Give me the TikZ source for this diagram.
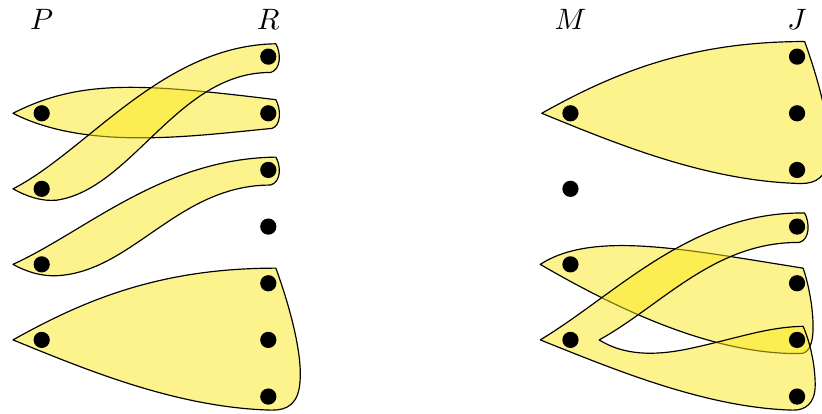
\documentclass[tikz,border=0pt]{standalone}
\usepackage{amsmath, amssymb}
\usepackage{tikz}
\usetikzlibrary{positioning}
\usepackage{xcolor}

\definecolor{blobyellow}{RGB}{251,231,25}

\tikzset{
  vertex/.style={circle, fill=black, inner sep=0pt, minimum size=5.5pt},
  edgeblob/.style={draw=black, line join=round, fill=blobyellow, fill opacity=0.5},
}

\begin{document}
\begin{tikzpicture}[x=0.9cm, y=0.9cm, on grid]
  \useasboundingbox (-0.552,-0.98) rectangle (10.33,4.5);
  \clip (-0.552,-0.98) rectangle (10.33,4.5);

  % left pair of columns
  \draw[edgeblob] (-0.38,3) .. controls (0.5,3.45) and (1.3,3.4) .. (3.1,3.18)
    .. controls (3.17,3.05) and (3.17,2.84) .. (3.05,2.8)
    .. controls (2.0,2.7) and (0.6,2.5) .. cycle;
  \draw[edgeblob] (-0.38,2) .. controls (0.6,2.5) and (1.6,3.9) .. (3.1,3.92)
    .. controls (3.17,3.8) and (3.17,3.58) .. (3.03,3.54)
    .. controls (1.8,3.55) and (1.2,2.0) .. (0.2,1.85)
    .. controls (0,1.83) and (-0.2,1.9) .. cycle;
  \draw[edgeblob] (-0.38,1) .. controls (0.6,1.45) and (1.6,2.4) .. (3.1,2.42)
    .. controls (3.17,2.3) and (3.17,2.09) .. (3.03,2.05)
    .. controls (1.8,2.05) and (1.2,0.9) .. (0.2,0.85)
    .. controls (0,0.84) and (-0.2,0.9) .. cycle;
  \draw[edgeblob] (-0.38,0) .. controls (0.6,0.55) and (1.6,0.95) .. (3.1,0.95)
    .. controls (3.3,0.4) and (3.45,-0.2) .. (3.42,-0.55)
    .. controls (3.4,-0.85) and (3.25,-0.93) .. (3.05,-0.93)
    .. controls (1.8,-0.9) and (0.6,-0.4) .. cycle;

  % right pair of columns
  \draw[edgeblob] (6.62,3) .. controls (7.6,3.55) and (8.6,3.95) .. (10.1,3.95)
    .. controls (10.3,3.4) and (10.45,2.8) .. (10.42,2.45)
    .. controls (10.4,2.15) and (10.25,2.07) .. (10.05,2.07)
    .. controls (8.8,2.1) and (7.6,2.6) .. cycle;
  \draw[edgeblob] (6.6,1) .. controls (7.3,1.45) and (8.5,1.2) .. (10.08,0.95)
    .. controls (10.2,0.6) and (10.25,0.1) .. (10.18,-0.06)
    .. controls (10.15,-0.15) and (10.1,-0.18) .. (10.05,-0.18)
    .. controls (9,-0.2) and (7.8,0.3) .. cycle;
  \draw[edgeblob] (6.6,0) .. controls (7.6,0.6) and (8.6,1.7) .. (10.1,1.68)
    .. controls (10.17,1.55) and (10.17,1.33) .. (10.03,1.29)
    .. controls (8.9,1.3) and (8.2,0.45) .. (7.38,0)
    .. controls (7.7,-0.2) and (8.1,-0.22) .. (8.6,-0.11)
    .. controls (9.2,0.02) and (9.6,0.17) .. (10.08,0.18)
    .. controls (10.18,-0.05) and (10.24,-0.35) .. (10.24,-0.6)
    .. controls (10.24,-0.85) and (10.1,-0.93) .. (9.95,-0.93)
    .. controls (8.8,-0.9) and (7.6,-0.4) .. cycle;

  % vertices
  \node[vertex] (p3) at (0,3) {};
  \node[vertex, below=0.9cm of p3] (p2) {};
  \node[vertex, below=0.9cm of p2] (p1) {};
  \node[vertex, below=0.9cm of p1] (p0) {};
  \node[vertex] (r6) at (3,3.75) {};
  \node[vertex, below=0.675cm of r6] (r5) {};
  \node[vertex, below=0.675cm of r5] (r4) {};
  \node[vertex, below=0.675cm of r4] (r3) {};
  \node[vertex, below=0.675cm of r3] (r2) {};
  \node[vertex, below=0.675cm of r2] (r1) {};
  \node[vertex, below=0.675cm of r1] (r0) {};
  \node[vertex] (m3) at (7,3) {};
  \node[vertex, below=0.9cm of m3] (m2) {};
  \node[vertex, below=0.9cm of m2] (m1) {};
  \node[vertex, below=0.9cm of m1] (m0) {};
  \node[vertex] (j6) at (10,3.75) {};
  \node[vertex, below=0.675cm of j6] (j5) {};
  \node[vertex, below=0.675cm of j5] (j4) {};
  \node[vertex, below=0.675cm of j4] (j3) {};
  \node[vertex, below=0.675cm of j3] (j2) {};
  \node[vertex, below=0.675cm of j2] (j1) {};
  \node[vertex, below=0.675cm of j1] (j0) {};

  % column labels
  \node[above=1.116cm of p3] (labP) {$P$};
  \node[right=2.7cm of labP] (labR) {$R$};
  \node[right=6.3cm of labP] (labM) {$M$};
  \node[right=9cm of labP] (labJ) {$J$};
\end{tikzpicture}
\end{document}
